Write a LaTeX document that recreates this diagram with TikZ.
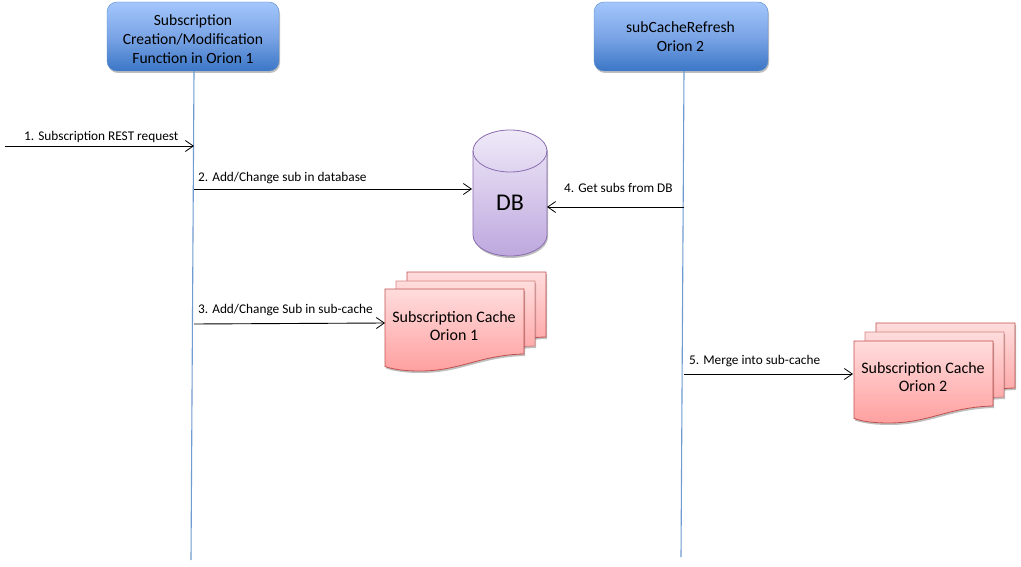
\documentclass[tikz,border=0pt]{standalone}
\usepackage{fontspec}
\setmainfont{Carlito}
\usetikzlibrary{shadows,arrows.meta,calc}
\definecolor{lifeblue}{HTML}{6F9BD1}
\definecolor{boxedge}{HTML}{5B8BC9}
\definecolor{boxtop}{HTML}{A3C6FC}
\definecolor{boxmid}{HTML}{7BA5E6}
\definecolor{boxbot}{HTML}{3B76C6}
\definecolor{dbedge}{HTML}{8A6DB0}
\definecolor{dbtop}{HTML}{EFE9F8}
\definecolor{dbbot}{HTML}{BEA8DE}
\definecolor{docedge}{HTML}{C0504D}
\definecolor{doctop}{HTML}{FFDCDC}
\definecolor{docbot}{HTML}{FFA0A0}
\tikzset{
  x=1pt,y=-1pt,
  softshadow/.style={drop shadow={shadow xshift=1pt,shadow yshift=-2pt,opacity=.25,fill=black}},
  headbox/.style={draw=boxedge,rounded corners=10pt,minimum width=172pt,minimum height=69pt,
    top color=boxtop,bottom color=boxbot,middle color=boxmid,softshadow,inner sep=0pt},
  headlabel/.style={align=center,text=black,inner sep=0pt,font=\fontsize{15.6}{19}\selectfont},
  lifeline/.style={draw=lifeblue,line width=1.1pt},
  msg/.style={draw=black,line width=.9pt,-{Straight Barb[length=8pt,width=11pt,line width=.8pt]}},
  msglabel/.style={font=\fontsize{13.3}{15}\selectfont,text=black,inner sep=0pt,anchor=base west},
  docshape/.style={draw=docedge,line width=.8pt,top color=doctop,bottom color=docbot,softshadow},
  doclabel/.style={align=center,text=black,inner sep=0pt,font=\fontsize{16}{18}\selectfont},
}
\newcommand{\docpath}[3][]{%
  \begin{scope}[shift={(#2,#3)}]
  \path[docshape,#1] (0,0) -- (139,0) -- (139,65)
    .. controls (95,66) and (75,82) .. (35,82)
    .. controls (22,82) and (10,81) .. (0,77.5) -- cycle;
  \end{scope}}
\begin{document}
\begin{tikzpicture}
\useasboundingbox (0,0) rectangle (1021,567);
\coordinate (l1end) at (191,560);
\coordinate (l2end) at (681,557);
\coordinate (src) at (5,146);
\coordinate (l1a) at (194,146);
\coordinate (l1b) at (194,189);
\coordinate (l1c) at (194,324);
\coordinate (l2a) at (684,207);
\coordinate (l2b) at (684,374);
\coordinate (dbin) at (472,189);
\coordinate (dbin2) at (547,207);
\coordinate (c1in) at (385,323);
\coordinate (c2in) at (853,374);
% head boxes
\node[headbox] (h1) at (193,36.5) {};
\node[headlabel] (h1t) at (193,39) {Subscription\\Creation/Modification\\Function in Orion 1};
\node[headbox,minimum width=174pt] (h2) at (681,36.5) {};
\node[headlabel] (h2t) at (680.5,36.5) {subCacheRefresh\\Orion 2};
\draw[lifeline] (h1.south) ++(1,0) -- (l1end);
\draw[lifeline] (h2.south) ++(3,0) -- (l2end);
% database
\path[draw=dbedge,line width=.8pt,top color=dbtop,bottom color=dbbot,softshadow]
  (473,151) arc[x radius=37pt,y radius=21pt,start angle=180,end angle=0]
  -- (547,235) arc[x radius=37pt,y radius=21pt,start angle=360,end angle=180] -- cycle;
\path[draw=dbedge,line width=.8pt] (473,151) arc[x radius=37pt,y radius=21pt,start angle=180,end angle=360];
\node[inner sep=0pt,font=\fontsize{24}{28}\selectfont,text=black] (db) at (510,203) {DB};
% cache Orion 1
\docpath{407}{272}
\docpath[draw=docedge!70!white]{396}{281}
\docpath{385}{289}
\node[doclabel] (c1) at (454,326) {Subscription Cache\\Orion 1};
% cache Orion 2
\docpath{876}{323}
\docpath[draw=docedge!70!white]{865}{332}
\docpath{854}{341}
\node[doclabel] (c2) at (923,377) {Subscription Cache\\Orion 2};
% messages
\draw[msg] (src) -- (l1a);
\draw[msg] (l1b) -- (dbin);
\draw[msg] (l1c) -- (c1in);
\draw[msg] (l2a) -- (dbin2);
\draw[msg] (l2b) -- (c2in);
\node[msglabel] (m1) at (24,141) {1. Subscription REST request};
\node[msglabel] (m2) at (198,182) {2. Add/Change sub in database};
\node[msglabel] (m3) at (198,313) {3. Add/Change Sub in sub-cache};
\node[msglabel] (m4) at (564,193) {4. Get subs from DB};
\node[msglabel] (m5) at (689,364) {5. Merge into sub-cache};
\end{tikzpicture}
\end{document}
